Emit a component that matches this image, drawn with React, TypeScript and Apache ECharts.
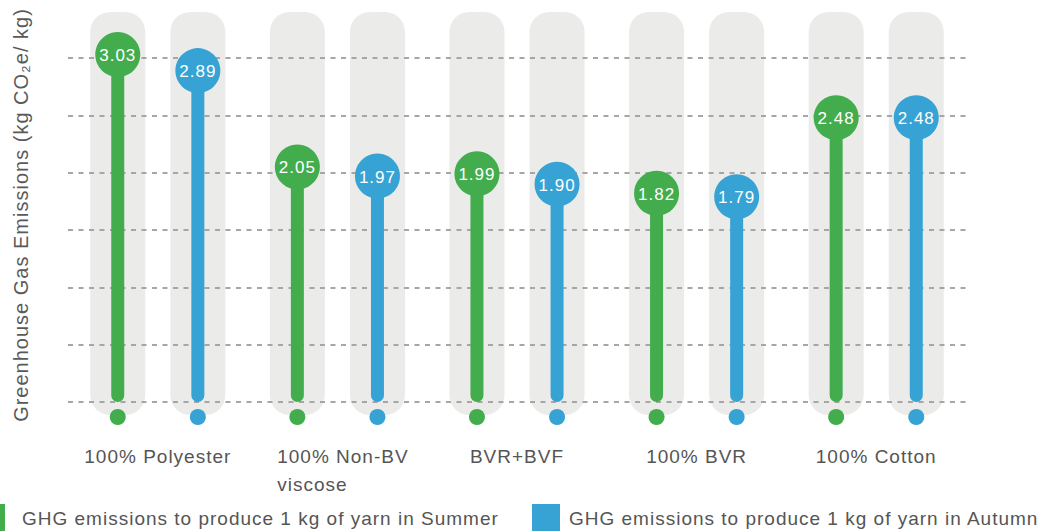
import React, { useEffect, useRef } from "react";
import * as echarts from "echarts";

const categories = ["100% Polyester", "100% Non-BV viscose", "BVR+BVF", "100% BVR", "100% Cotton"];
const summerValues = [3.03, 2.05, 1.99, 1.82, 2.48];
const autumnValues = [2.89, 1.97, 1.9, 1.79, 2.48];
const summerName = "GHG emissions to produce 1 kg of yarn in Summer";
const autumnName = "GHG emissions to produce 1 kg of yarn in Autumn";
const yTitle = "Greenhouse Gas Emissions (kg CO\u2082e/ kg)";
const yMin = 0;
const yMax = 3;
const yInterval = 0.5;

const GREEN = "#43ad4e";
const BLUE = "#37a3d4";
const BG = "#ebebea";
const FONT = "'Liberation Sans', Arial, Helvetica, sans-serif";
const OFFSET = 0.223;

function makeRenderItem(side: number, color: string) {
  return (params: any, api: any) => {
    const idx = api.value(0);
    const val = api.value(1);
    const base = api.coord([idx, 0]);
    const top = api.coord([idx, val]);
    const band = api.size([1, 0])[0];
    const x = base[0] + side * band * OFFSET;
    const y0 = base[1];
    const yv = top[1];
    return {
      type: "group",
      children: [
        {
          type: "rect",
          shape: { x: x - 6.5, y: yv, width: 13, height: y0 - yv, r: [0, 0, 6.5, 6.5] },
          style: { fill: color },
        },
        { type: "circle", shape: { cx: x, cy: yv, r: 22.5 }, style: { fill: color } },
        {
          type: "text",
          x: x,
          y: yv + 1,
          style: {
            text: Number(val).toFixed(2),
            fill: "#ffffff",
            fontSize: 17,
            fontFamily: FONT,
            align: "center",
            verticalAlign: "middle",
          },
        },
        { type: "circle", shape: { cx: x, cy: y0 + 15, r: 8 }, style: { fill: color } },
      ],
    };
  };
}

function bgRenderItem(params: any, api: any) {
  const idx = api.value(0);
  const base = api.coord([idx, 0]);
  const band = api.size([1, 0])[0];
  const cs = params.coordSys;
  const top = cs.y - 46;
  const bottom = base[1] + 13;
  const children = [-1, 1].map((side) => {
    const x = base[0] + side * band * OFFSET;
    return {
      type: "rect",
      shape: { x: x - 27.5, y: top, width: 55, height: bottom - top, r: 20 },
      style: { fill: BG },
    };
  });
  return { type: "group", children };
}

export default function App() {
  const ref = useRef<HTMLDivElement>(null);
  useEffect(() => {
    document.body.style.margin = "0";
    document.body.style.overflow = "hidden";
    if (!ref.current) return;
    const chart = echarts.init(ref.current, undefined, { renderer: "svg" });
    chart.setOption({
      animation: false,
      textStyle: { fontFamily: FONT },
      grid: { left: 68, right: 73, top: 58, bottom: 129 },
      legend: [
        {
          data: [summerName],
          left: -23,
          top: 504,
          padding: 0,
          itemWidth: 28,
          itemHeight: 28,
          icon: "rect",
          selectedMode: false,
          textStyle: { fontSize: 19, color: "#555555", fontFamily: FONT, padding: [0, 0, 0, 12] },
        },
        {
          data: [autumnName],
          left: 532,
          top: 504,
          padding: 0,
          itemWidth: 28,
          itemHeight: 28,
          icon: "rect",
          selectedMode: false,
          textStyle: { fontSize: 19, color: "#555555", fontFamily: FONT, padding: [0, 0, 0, 4] },
        },
      ],
      xAxis: {
        type: "category",
        data: categories,
        axisLine: { show: false },
        axisTick: { show: false },
        axisLabel: {
          margin: 40,
          fontSize: 19,
          lineHeight: 28,
          color: "#555555",
          fontFamily: FONT,
          interval: 0,
          formatter: (v: string) =>
            v === "100% Non-BV viscose" ? "{l|100% Non-BV}\n{l|viscose}" : v,
          rich: {
            l: { align: "left", fontSize: 19, lineHeight: 28, color: "#555555", fontFamily: FONT },
          },
        },
      },
      yAxis: {
        type: "value",
        min: yMin,
        max: yMax,
        interval: yInterval,
        z: 1,
        axisLine: { show: false },
        axisTick: { show: false },
        axisLabel: { show: false },
        splitLine: { show: true, lineStyle: { color: "#a6a6a6", width: 2, type: [5, 5.5] } },
        name: yTitle,
        nameLocation: "middle",
        nameGap: 37,
        nameTextStyle: { fontSize: 20, color: "#5a5a5a", fontFamily: FONT, padding: [0, 0, 0, 30] },
      },
      series: [
        {
          type: "custom",
          name: "bg",
          z: 0,
          silent: true,
          renderItem: bgRenderItem,
          encode: { x: 0, y: 1 },
          data: summerValues.map((_, i) => [i, 0]),
        },
        {
          type: "custom",
          name: summerName,
          z: 2,
          color: GREEN,
          itemStyle: { color: GREEN },
          renderItem: makeRenderItem(-1, GREEN),
          encode: { x: 0, y: 1 },
          data: summerValues.map((v, i) => [i, v]),
        },
        {
          type: "custom",
          name: autumnName,
          z: 2,
          color: BLUE,
          itemStyle: { color: BLUE },
          renderItem: makeRenderItem(1, BLUE),
          encode: { x: 0, y: 1 },
          data: autumnValues.map((v, i) => [i, v]),
        },
      ],
    });
    return () => chart.dispose();
  }, []);
  return (
    <div
      ref={ref}
      style={{ position: "absolute", left: 0, top: 0, width: 1039, height: 531, letterSpacing: "1px" }}
    />
  );
}
